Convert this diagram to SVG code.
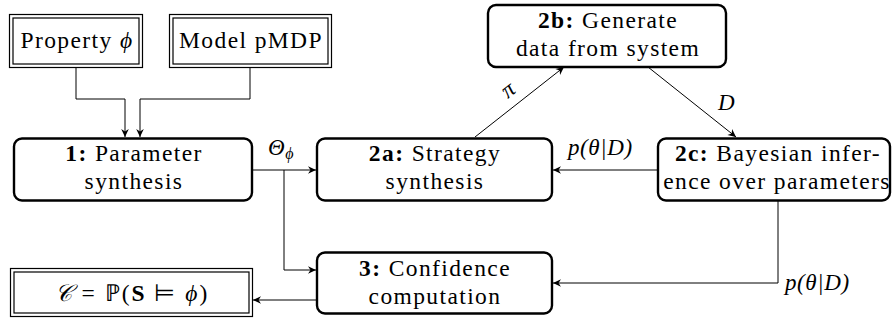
<svg xmlns="http://www.w3.org/2000/svg" width="893" height="322" viewBox="0 0 893 322">
<defs>
<style>
.node{fill:#fff;stroke:#000;stroke-width:2.4}
.dbl{fill:none;stroke:#000;stroke-width:1.2}
.c{fill:none;stroke:#000;stroke-width:1;marker-end:url(#ah)}
</style>
<marker id="ah" viewBox="-9 -5 10 10" refX="0" refY="0" markerWidth="10" markerHeight="10" markerUnits="userSpaceOnUse" orient="auto">
<path d="M0,0 L-8,-3.8 L-5.5,0 L-8,3.8 Z" fill="#000"/>
</marker>
</defs>

<g id="connectors">
<path class="c" d="M76,68 V99 H125 V137"/>
<path class="c" d="M250,68 V99 H140 V137"/>
<path class="c" d="M252,170 H316"/>
<path class="c" d="M284,170 V270 H316"/>
<path class="c" d="M475,137 L564,67"/>
<path class="c" d="M648,67 L736,137"/>
<path class="c" d="M658,170 H553"/>
<path class="c" d="M778,201 V283 H553"/>
<path class="c" d="M317,300 H253"/>
<g font-family="Liberation Serif" font-style="italic" font-size="23" letter-spacing="0.6">
<text x="268" y="155">Θ<tspan font-size="16" dy="4">ϕ</tspan></text>
<text x="568" y="155">p(θ|D)</text>
<text x="785" y="290">p(θ|D)</text>
<text x="718" y="110">D</text>
<text x="510" y="96" text-anchor="middle" transform="rotate(-38 510 92)">π</text>
</g>
</g>

<g font-family="Liberation Serif" font-size="23.5" letter-spacing="1.4" text-anchor="middle">
<g id="property">
<rect class="dbl" x="9.5" y="14.5" width="133" height="53"/>
<rect class="dbl" x="13" y="18" width="126" height="46"/>
<text x="77" y="48">Property <tspan font-style="italic">ϕ</tspan></text>
</g>

<g id="model">
<rect class="dbl" x="169.5" y="14.5" width="162" height="53"/>
<rect class="dbl" x="173" y="18" width="155" height="46"/>
<text x="251" y="48">Model pMDP</text>
</g>

<g id="n1">
<rect class="node" x="14" y="138.5" width="238" height="62" rx="8"/>
<text x="134" y="161"><tspan font-weight="bold">1:</tspan> Parameter</text>
<text x="134" y="189">synthesis</text>
</g>

<g id="n2a">
<rect class="node" x="317" y="138.5" width="235" height="62" rx="8"/>
<text x="435" y="161"><tspan font-weight="bold">2a:</tspan> Strategy</text>
<text x="435" y="189">synthesis</text>
</g>

<g id="n2b">
<rect class="node" x="488" y="5" width="238" height="62" rx="8"/>
<text x="608" y="28"><tspan font-weight="bold">2b:</tspan> Generate</text>
<text x="608" y="56">data from system</text>
</g>

<g id="n2c">
<rect class="node" x="658" y="138.5" width="232" height="62" rx="8"/>
<text x="778" y="161"><tspan font-weight="bold">2c:</tspan> Bayesian infer-</text>
<text x="777" y="189">ence over parameters</text>
</g>

<g id="n3">
<rect class="node" x="317" y="252.5" width="235" height="61" rx="8"/>
<text x="435" y="275.5"><tspan font-weight="bold">3:</tspan> Confidence</text>
<text x="435" y="303.5">computation</text>
</g>

<g id="result">
<rect class="dbl" x="10.5" y="268.5" width="242" height="48"/>
<rect class="dbl" x="14" y="272" width="235" height="41"/>
<text x="132" y="301" letter-spacing="2"><tspan font-style="italic">𝒞</tspan> = ℙ(<tspan font-weight="bold">S</tspan> ⊨ <tspan font-style="italic">ϕ</tspan>)</text>
</g>
</g>
</svg>
